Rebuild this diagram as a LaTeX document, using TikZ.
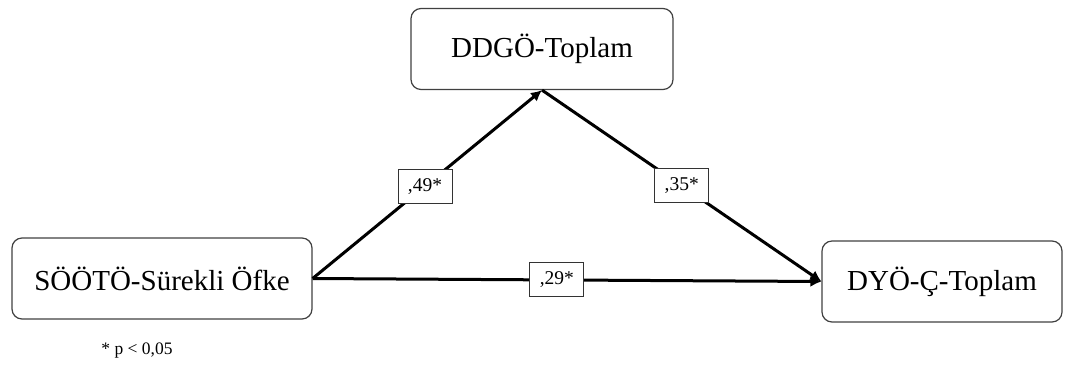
\documentclass[tikz,border=0pt]{standalone}
\usepackage{fontspec}
\setmainfont{Liberation Serif}
\usetikzlibrary{arrows.meta}
\begin{document}
\begin{tikzpicture}[x=1pt,y=-1pt,
  varbox/.style={draw=black!75,line width=1.2pt,rounded corners=10pt,
    minimum height=81pt,inner sep=0pt,font=\fontsize{29}{34}\selectfont},
  coef/.style={draw=black!80,line width=1pt,fill=white,minimum width=54pt,
    minimum height=34pt,inner sep=0pt,font=\fontsize{19.5}{22}\selectfont},
  path/.style={line width=3pt,-{Latex[length=11pt,width=11pt]}}]
\useasboundingbox (0,0) rectangle (1073,365);
\node[varbox,minimum width=262pt] (m) at (542,49) {DDGÖ-Toplam};
\node[varbox,minimum width=300pt] (x) at (162,278.5) {SÖÖTÖ-Sürekli Öfke};
\node[varbox,minimum width=240pt] (y) at (942,281.5) {DYÖ-Ç-Toplam};
\draw[path] (x.east) -- (m.south) node[coef,pos=0.49] (a) {,49*};
\draw[path] (m.south) -- (y.west) node[coef,pos=0.5] (b) {,35*};
\draw[path] (x.east) -- (y.west) node[coef,pos=0.48] (c) {,29*};
\node[font=\fontsize{17.5}{20}\selectfont] (note) at (137,351) {* p < 0,05};
\end{tikzpicture}
\end{document}
